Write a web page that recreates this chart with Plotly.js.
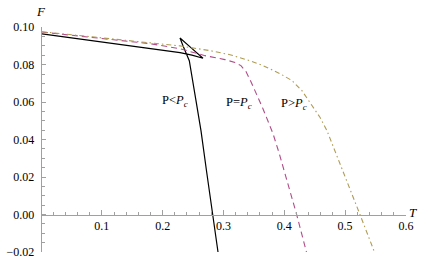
<!DOCTYPE html>
<html>
<head>
<meta charset="utf-8">
<script src="https://cdn.plot.ly/plotly-3.0.1.min.js"></script>
<style>html,body{margin:0;padding:0;background:#fff;}#chart{width:429px;height:262px;}</style>
</head>
<body>
<div id="chart"></div>
<script>
// P < Pc (swallowtail: small branch -> cusp -> middle branch -> cusp -> large branch)
const lowT = [0.0016, 0.0969, 0.1298, 0.1791, 0.2285, 0.2482, 0.2663, 0.2474, 0.2285, 0.2334, 0.2383, 0.2438, 0.2548, 0.2630, 0.2720, 0.2816, 0.2910];
const lowF = [0.0964, 0.0923, 0.0908, 0.0887, 0.0864, 0.0851, 0.0834, 0.0888, 0.0942, 0.0901, 0.0864, 0.0821, 0.0608, 0.0448, 0.0235, 0.0000, -0.0200];
// P = Pc
const critT = [0.0016, 0.0969, 0.1791, 0.2285, 0.2696, 0.3024, 0.3189, 0.3287, 0.3370, 0.3452, 0.3551, 0.3649, 0.3731, 0.3814, 0.3912, 0.4011, 0.4109, 0.4203, 0.4364];
const critF = [0.0974, 0.0941, 0.0912, 0.0885, 0.0848, 0.0827, 0.0812, 0.0795, 0.0763, 0.0709, 0.0640, 0.0565, 0.0499, 0.0432, 0.0331, 0.0219, 0.0109, 0.0000, -0.0200];
// P > Pc
const highT = [0.0016, 0.0969, 0.1791, 0.2285, 0.2778, 0.3107, 0.3435, 0.3649, 0.3929, 0.4126, 0.4290, 0.4422, 0.4586, 0.4701, 0.4964, 0.5244, 0.5482];
const highF = [0.0976, 0.0944, 0.0917, 0.0900, 0.0875, 0.0853, 0.0821, 0.0795, 0.0752, 0.0715, 0.0661, 0.0599, 0.0519, 0.0448, 0.0235, 0.0000, -0.0200];

const curveLabels = ["P&lt;<i>P</i><sub><i>c</i></sub>", "P=<i>P</i><sub><i>c</i></sub>", "P&gt;<i>P</i><sub><i>c</i></sub>"];
const xTitle = "T";
const yTitle = "F";

const serif = "Liberation Serif, Times New Roman, serif";
const axisGray = "#a0a0a0";

const traces = [
  {x: lowT, y: lowF, mode: "lines", line: {color: "#000000", width: 1.2}},
  {x: critT, y: critF, mode: "lines", line: {color: "#b04d88", width: 1.1, dash: "6px,4px"}},
  {x: highT, y: highF, mode: "lines", line: {color: "#b09c55", width: 1.1, dash: "5px,3px,1.5px,3px"}}
];

const labelFont = {family: serif, size: 12.5, color: "#000"};
const titleFont = {family: serif, size: 13, color: "#000"};

const layout = {
  width: 429, height: 262,
  margin: {l: 42, r: 23, t: 27, b: 10},
  paper_bgcolor: "#fff", plot_bgcolor: "#fff",
  showlegend: false,
  font: {family: serif, size: 12, color: "#000"},
  xaxis: {
    range: [0.0016, 0.6001], anchor: "free", position: 1/6,
    showgrid: false, zeroline: false,
    showline: true, linecolor: axisGray, linewidth: 1,
    ticks: "inside", ticklen: 5, tickcolor: axisGray, tickwidth: 1,
    tick0: 0, dtick: 0.1, tickformat: ".1f",
    ticklabelstandoff: 0,
    minor: {ticks: "inside", ticklen: 3, dtick: 0.02, tick0: 0, tickcolor: axisGray, showgrid: false},
    tickfont: {family: serif, size: 12, color: "#000"}
  },
  yaxis: {
    range: [-0.02, 0.1001],
    showgrid: false, zeroline: false,
    showline: true, linecolor: axisGray, linewidth: 1.3,
    ticks: "inside", ticklen: 4, tickcolor: axisGray, tickwidth: 1,
    tick0: 0, dtick: 0.02, tickformat: ".2f",
    ticklabelstandoff: 4,
    minor: {ticks: "inside", ticklen: 2.5, dtick: 0.005, tick0: 0, tickcolor: axisGray, showgrid: false},
    tickfont: {family: serif, size: 12, color: "#000"}
  },
  annotations: [
    {text: curveLabels[0], xref: "paper", yref: "paper", x: 0.365, y: 0.671, showarrow: false, xanchor: "center", yanchor: "middle", font: labelFont},
    {text: curveLabels[1], xref: "paper", yref: "paper", x: 0.541, y: 0.662, showarrow: false, xanchor: "center", yanchor: "middle", font: labelFont},
    {text: curveLabels[2], xref: "paper", yref: "paper", x: 0.691, y: 0.658, showarrow: false, xanchor: "center", yanchor: "middle", font: labelFont},
    {text: "<i>" + yTitle + "</i>", xref: "paper", yref: "paper", x: -0.003, y: 1.071, showarrow: false, xanchor: "center", yanchor: "middle", font: titleFont},
    {text: "<i>" + xTitle + "</i>", xref: "paper", yref: "paper", x: 1.019, y: 0.176, showarrow: false, xanchor: "center", yanchor: "middle", font: titleFont}
  ]
};

Plotly.newPlot("chart", traces, layout, {displayModeBar: false, staticPlot: true});
</script>
</body>
</html>
